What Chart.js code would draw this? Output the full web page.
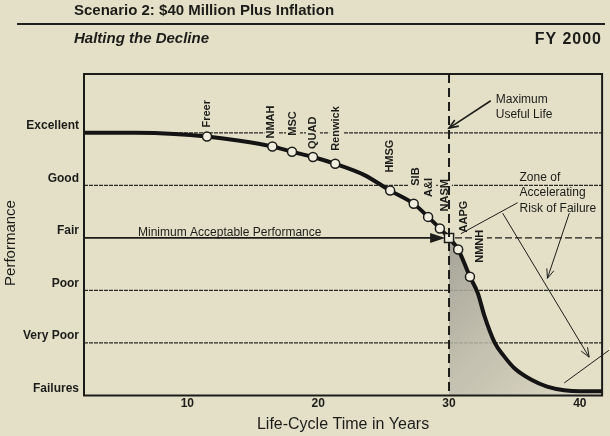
<!DOCTYPE html>
<html>
<head>
<meta charset="utf-8">
<script src="https://cdn.jsdelivr.net/npm/chart.js@4.4.0/dist/chart.umd.min.js"></script>
<style>
  html, body { margin: 0; padding: 0; background: #e4e0c8; }
  #wrap { position: relative; width: 610px; height: 436px; font-family: "Liberation Sans", Arial, sans-serif; color: #1c1c1a; }
  #c { position: absolute; left: 0; top: 0; }
  .hd { position: absolute; font-weight: bold; font-size: 15px; line-height: 16px; white-space: nowrap; }
  #t1 { left: 74px; top: 2px; }
  #rule { position: absolute; left: 17px; top: 23px; width: 588px; height: 2px; background: #222; }
  #t2 { left: 74px; top: 30px; font-style: italic; }
  #fy { right: 8px; top: 30px; font-size: 16px; line-height: 18px; letter-spacing: 1px; }
</style>
</head>
<body>
<div id="wrap">
  <canvas id="c" width="610" height="436"></canvas>
  <div class="hd" id="t1">Scenario 2: $40 Million Plus Inflation</div>
  <div id="rule"></div>
  <div class="hd" id="t2">Halting the Decline</div>
  <div class="hd" id="fy">FY 2000</div>
</div>
<script>
// performance levels (0 = Failures ... 5 = Excellent)
const levelNames = ['Failures', 'Very Poor', 'Poor', 'Fair', 'Good', 'Excellent'];
const xTicks = [10, 20, 30, 40];
const usefulLife = 30;     // maximum useful life (years)
const minAcceptable = 3;   // Fair

// life-cycle curve
const curveX = [2.1, 6, 9, 11.5, 14, 16.5, 18.0, 19.6, 21.3, 23.5, 25.5, 27.3, 28.4, 29.3, 30.0, 30.7, 31.6, 32.2, 32.7, 33.5, 34.2, 35.0, 36.3, 37.5, 38.8, 40.0, 41.7];
const curveY = [5.0, 5.0, 4.98, 4.93, 4.85, 4.74, 4.64, 4.54, 4.41, 4.2, 3.9, 3.65, 3.4, 3.18, 3.0, 2.78, 2.26, 1.95, 1.52, 1.0, 0.75, 0.52, 0.3, 0.17, 0.1, 0.08, 0.08];

// buildings on the curve
const siteNames = ['Freer', 'NMAH', 'MSC', 'QUAD', 'Renwick', 'HMSG', 'SIB', 'A&I', 'NASM', 'AAPG', 'NMNH'];
const siteX = [11.5, 16.5, 18.0, 19.6, 21.3, 25.5, 27.3, 28.4, 29.3, 30.7, 31.6];
const siteY = [4.93, 4.74, 4.64, 4.54, 4.41, 3.9, 3.65, 3.4, 3.18, 2.78, 2.26];

const ink = '#1c1c1a';
const paper = '#e4e0c8';
const fam = "'Liberation Sans', Arial, sans-serif";

// label placement: [dx px, gap px above point]
const labelPos = {
  'Freer': [0, 9], 'NMAH': [-1, 8], 'MSC': [1, 16], 'QUAD': [0, 8], 'Renwick': [1, 13],
  'HMSG': [0, 18], 'SIB': [2, 18], 'A&I': [1, 20], 'NASM': [5, 17], 'AAPG': [6, 17], 'NMNH': [10, 14]
};

// annotations in data units
const notes = {
  maxText: [33.57, 5.63], maxArrow: [33.19, 5.61, 30.0, 5.09],
  zoneText: [35.39, 4.15], zoneLines: [
    [35.24, 3.67, 30.91, 3.08, false],
    [34.1, 3.47, 40.71, 0.73, true],
    [39.19, 3.47, 37.52, 2.23, true],
    [42.22, 0.86, 38.81, 0.24, false]
  ],
  minText: [6.23, 3.10], minArrowTip: 29.7
};

function seg(ctx, x1, y1, x2, y2) {
  ctx.beginPath(); ctx.moveTo(x1, y1); ctx.lineTo(x2, y2); ctx.stroke();
}
function vHead(ctx, x1, y1, x2, y2) {
  const a = Math.atan2(y2 - y1, x2 - x1), len = 10, w = 0.38;
  ctx.beginPath();
  ctx.moveTo(x2 - len * Math.cos(a - w), y2 - len * Math.sin(a - w));
  ctx.lineTo(x2, y2);
  ctx.lineTo(x2 - len * Math.cos(a + w), y2 - len * Math.sin(a + w));
  ctx.stroke();
}

const decor = {
  id: 'decor',
  beforeDatasetsDraw(chart) {
    const { ctx, chartArea: a, scales: { x, y } } = chart;
    ctx.save();
    ctx.strokeStyle = '#2a2a26';
    // level gridlines
    for (let v = 1; v < levelNames.length; v++) {
      if (v === minAcceptable) continue;
      const py = y.getPixelForValue(v);
      ctx.lineWidth = 1.3;
      ctx.setLineDash([4, 1]);
      seg(ctx, a.left, py, a.right, py);
    }
    // minimum acceptable performance arrow
    const fy = y.getPixelForValue(minAcceptable);
    const tip = x.getPixelForValue(notes.minArrowTip);
    ctx.strokeStyle = ink;
    ctx.setLineDash([]);
    ctx.lineWidth = 1.6;
    seg(ctx, a.left, fy, tip - 10, fy);
    ctx.fillStyle = ink;
    ctx.beginPath(); ctx.moveTo(tip, fy); ctx.lineTo(tip - 15, fy - 5); ctx.lineTo(tip - 15, fy + 5); ctx.closePath(); ctx.fill();
    ctx.setLineDash([7, 3]);
    ctx.lineWidth = 1.3;
    seg(ctx, x.getPixelForValue(usefulLife) + 6, fy, a.right, fy);
    ctx.setLineDash([]);
    // clear space behind the building labels
    ctx.fillStyle = paper;
    ctx.font = 'bold 11px ' + fam;
    siteNames.forEach((n, i) => {
      const [dx, gap] = labelPos[n];
      const px = x.getPixelForValue(siteX[i]) + dx;
      const py = y.getPixelForValue(siteY[i]) - gap;
      const w = ctx.measureText(n).width;
      ctx.fillRect(px - 7, py - w - 3, 14, w + 6);
    });
    ctx.restore();
  },
  afterDatasetsDraw(chart) {
    const { ctx, chartArea: a, scales: { x, y } } = chart;
    const X = v => x.getPixelForValue(v), Y = v => y.getPixelForValue(v);
    ctx.save();
    // frame
    ctx.strokeStyle = ink;
    ctx.lineWidth = 2;
    ctx.strokeRect(a.left, a.top, a.right - a.left, a.bottom - a.top);
    // maximum useful life
    ctx.setLineDash([9, 5]);
    ctx.lineWidth = 2;
    seg(ctx, X(usefulLife), a.top, X(usefulLife), a.bottom);
    ctx.setLineDash([]);
    // building labels
    ctx.fillStyle = ink;
    ctx.font = 'bold 11px ' + fam;
    ctx.textAlign = 'left';
    ctx.textBaseline = 'middle';
    siteNames.forEach((n, i) => {
      const [dx, gap] = labelPos[n];
      ctx.save();
      ctx.translate(X(siteX[i]) + dx, Y(siteY[i]) - gap);
      ctx.rotate(-Math.PI / 2);
      ctx.fillText(n, 0, 0);
      ctx.restore();
    });
    // notes
    ctx.font = '12px ' + fam;
    ctx.fillText('Maximum', X(notes.maxText[0]), Y(notes.maxText[1]));
    ctx.fillText('Useful Life', X(notes.maxText[0]), Y(notes.maxText[1]) + 15);
    ctx.lineWidth = 1.6;
    const m = notes.maxArrow;
    seg(ctx, X(m[0]), Y(m[1]), X(m[2]), Y(m[3]));
    vHead(ctx, X(m[0]), Y(m[1]), X(m[2]), Y(m[3]));
    ['Zone of', 'Accelerating', 'Risk of Failure'].forEach((t, i) => {
      ctx.fillText(t, X(notes.zoneText[0]), Y(notes.zoneText[1]) + i * 15.5);
    });
    ctx.lineWidth = 1;
    notes.zoneLines.forEach(l => {
      seg(ctx, X(l[0]), Y(l[1]), X(l[2]), Y(l[3]));
      if (l[4]) vHead(ctx, X(l[0]), Y(l[1]), X(l[2]), Y(l[3]));
    });
    ctx.fillText('Minimum Acceptable Performance', X(notes.minText[0]), Y(notes.minText[1]));
    // y title
    ctx.font = '15px ' + fam;
    ctx.textAlign = 'center';
    ctx.translate(11, 243);
    ctx.rotate(-Math.PI / 2);
    ctx.fillText('Performance', 0, 0);
    ctx.restore();
  }
};

const pts = (xs, ys) => xs.map((v, i) => ({ x: v, y: ys[i] }));
const shadeX = curveX.filter(v => v >= usefulLife);
const shadeY = curveY.slice(curveX.length - shadeX.length);

Chart.defaults.font.family = fam;
Chart.defaults.color = ink;

new Chart(document.getElementById('c'), {
  type: 'line',
  data: {
    datasets: [
      {
        data: [{ x: usefulLife, y: minAcceptable }],
        showLine: false, pointStyle: 'rect', pointRadius: 6.4,
        pointBackgroundColor: '#efecdc', pointBorderColor: ink, pointBorderWidth: 1.5, order: 0
      },
      {
        data: pts(siteX, siteY),
        showLine: false, pointStyle: 'circle', pointRadius: 4.5,
        pointBackgroundColor: '#f1eee0', pointBorderColor: ink, pointBorderWidth: 1.5, order: 1
      },
      {
        data: pts(curveX, curveY),
        borderColor: '#141414', borderWidth: 4, pointRadius: 0,
        cubicInterpolationMode: 'monotone', fill: false, order: 2
      },
      {
        data: pts(shadeX, shadeY),
        borderWidth: 0, borderColor: 'rgba(0,0,0,0)', pointRadius: 0,
        cubicInterpolationMode: 'monotone', fill: 'origin', order: 3,
        backgroundColor: c => {
          const a = c.chart.chartArea;
          if (!a) return 'rgba(0,0,0,0)';
          const x0 = c.chart.scales.x.getPixelForValue(usefulLife);
          const y0 = c.chart.scales.y.getPixelForValue(minAcceptable);
          const g = c.chart.ctx.createLinearGradient(x0, y0, a.right, a.bottom);
          g.addColorStop(0, 'rgba(158,157,146,0.9)');
          g.addColorStop(0.45, 'rgba(188,185,170,0.85)');
          g.addColorStop(1, 'rgba(218,214,194,0.8)');
          return g;
        }
      }
    ]
  },
  options: {
    responsive: false,
    animation: false,
    layout: { padding: { top: 74, right: 5, left: 0, bottom: 0 } },
    plugins: { legend: { display: false }, tooltip: { enabled: false } },
    scales: {
      x: {
        type: 'linear', min: 2.1, max: 41.7,
        afterBuildTicks: s => { s.ticks = xTicks.map(v => ({ value: v })); },
        afterFit: s => { s.height = 40.5; },
        grid: { display: false, drawTicks: false },
        border: { display: false },
        ticks: { padding: 1, font: { size: 12, weight: 'bold' }, color: ink },
        title: { display: true, text: 'Life-Cycle Time in Years', font: { size: 16 }, color: ink, padding: { top: 0, bottom: 2 } }
      },
      y: {
        type: 'linear', min: 0, max: 6.12,
        afterBuildTicks: s => { s.ticks = levelNames.map((n, i) => ({ value: i })); },
        afterFit: s => { s.width = 84; },
        grid: { display: false, drawTicks: false },
        border: { display: false },
        ticks: { padding: 5, labelOffset: -7, font: { size: 12, weight: 'bold' }, color: ink, callback: v => levelNames[v] }
      }
    }
  },
  plugins: [decor]
});
</script>
</body>
</html>
